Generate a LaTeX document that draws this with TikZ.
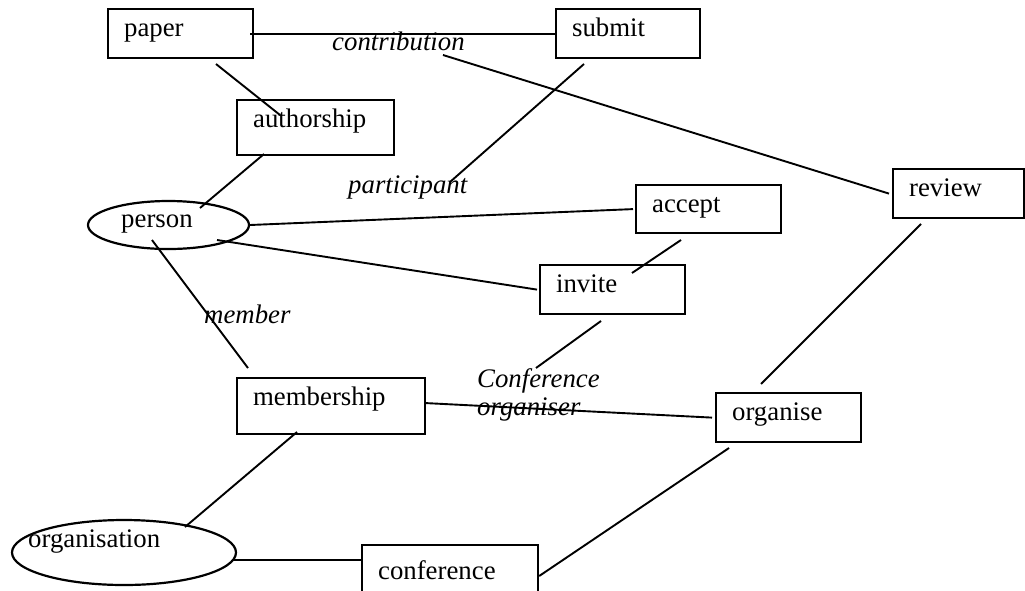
\documentclass[tikz,border=0pt]{standalone}
\usepackage{fontspec}
\setmainfont{Liberation Serif}
\usetikzlibrary{shapes.geometric,calc}
\begin{document}
\begin{tikzpicture}[x=1pt,y=-1pt,
  every node/.style={font=\fontsize{26.8pt}{32pt}\selectfont},
  entbox/.style={draw, line width=2.2pt, anchor=north west, inner ysep=0pt,
    inner xsep=16pt, align=left, text height=27pt},
  entell/.style={ellipse, draw, line width=2.2pt, inner sep=0pt},
  lbl/.style={anchor=base west, inner sep=0pt},
  rolelbl/.style={lbl, font=\fontsize{26.8pt}{32pt}\selectfont\itshape},
  conn/.style={line width=1.9pt}]
\useasboundingbox[fill=white] (0,0) rectangle (1025,590);

% entity / relationship boxes
\node[entbox, text width=113pt, text depth=22pt] (paper) at (107,8) {paper};
\node[entbox, text width=112pt, text depth=22pt] (submit) at (555,8) {submit};
\node[entbox, text width=125pt, text depth=28pt] (authorship) at (236,99) {authorship};
\node[entbox, text width=99pt, text depth=22pt] (review) at (892,168) {review};
\node[entbox, text width=113pt, text depth=21pt] (accept) at (635,184) {accept};
\node[entbox, text width=113pt, text depth=22pt] (invite) at (539,264) {invite};
\node[entbox, text width=156pt, text depth=29pt] (membership) at (236,377) {membership};
\node[entbox, text width=113pt, text depth=22pt] (organise) at (715,392) {organise};
\node[entbox, text width=144pt, text height=34pt, text depth=30pt] (conference) at (361,544) {conference};

% ellipses
\node[entell, minimum width=161pt, minimum height=48pt] (person) at (168.5,225) {};
\node[lbl] (persontext) at (121,227) {person};
\node[entell, minimum width=224pt, minimum height=65pt] (organisation) at (124,552.5) {};
\node[lbl] (organisationtext) at (28,547) {organisation};

% role labels
\node[rolelbl] (contribution) at (332,50) {contribution};
\node[rolelbl] (participant) at (348,193) {participant};
\node[rolelbl] (member) at (204,323) {member};
\node[rolelbl] (confA) at (477,387) {Conference};
\node[rolelbl] (confB) at (477,415) {organiser};

% free connector ends
\coordinate (c1) at (443,55);
\coordinate (p1) at (216,64);
\coordinate (a1) at (280,115);
\coordinate (a2) at (264,154);
\coordinate (pe1) at (200,208);
\coordinate (s1) at (584,64);
\coordinate (pa1) at (450,182);
\coordinate (pe2) at (217,240);
\coordinate (ac1) at (681,240);
\coordinate (in1) at (632,273);
\coordinate (in2) at (601,321);
\coordinate (co1) at (536,368);
\coordinate (pe3) at (152,240);
\coordinate (me1) at (248,368);
\coordinate (me2) at (297,432);
\coordinate (or1) at (185,527);
\coordinate (or2) at (233,560);
\coordinate (og1) at (729,448);
\coordinate (rv1) at (921,224);
\coordinate (og2) at (761,384);

% connectors
\draw[conn] ([xshift=-4pt]paper.east) -- (submit.west);
\draw[conn] (c1) -- ([xshift=-3pt]review.west);
\draw[conn] (p1) -- (a1);
\draw[conn] (a2) -- (pe1);
\draw[conn] (s1) -- (pa1);
\draw[conn] (person.east) -- ([xshift=-2pt]accept.west);
\draw[conn] (pe2) -- ([xshift=-2pt]invite.west);
\draw[conn] (ac1) -- (in1);
\draw[conn] (in2) -- (co1);
\draw[conn] (pe3) -- (me1);
\draw[conn] ([yshift=3pt]membership.east) -- ([xshift=-3pt]organise.west);
\draw[conn] (me2) -- (or1);
\draw[conn] (or2) -- ([yshift=-16pt]conference.north west);
\draw[conn] ([yshift=-32pt]conference.north east) -- (og1);
\draw[conn] (rv1) -- (og2);
\end{tikzpicture}
\end{document}
